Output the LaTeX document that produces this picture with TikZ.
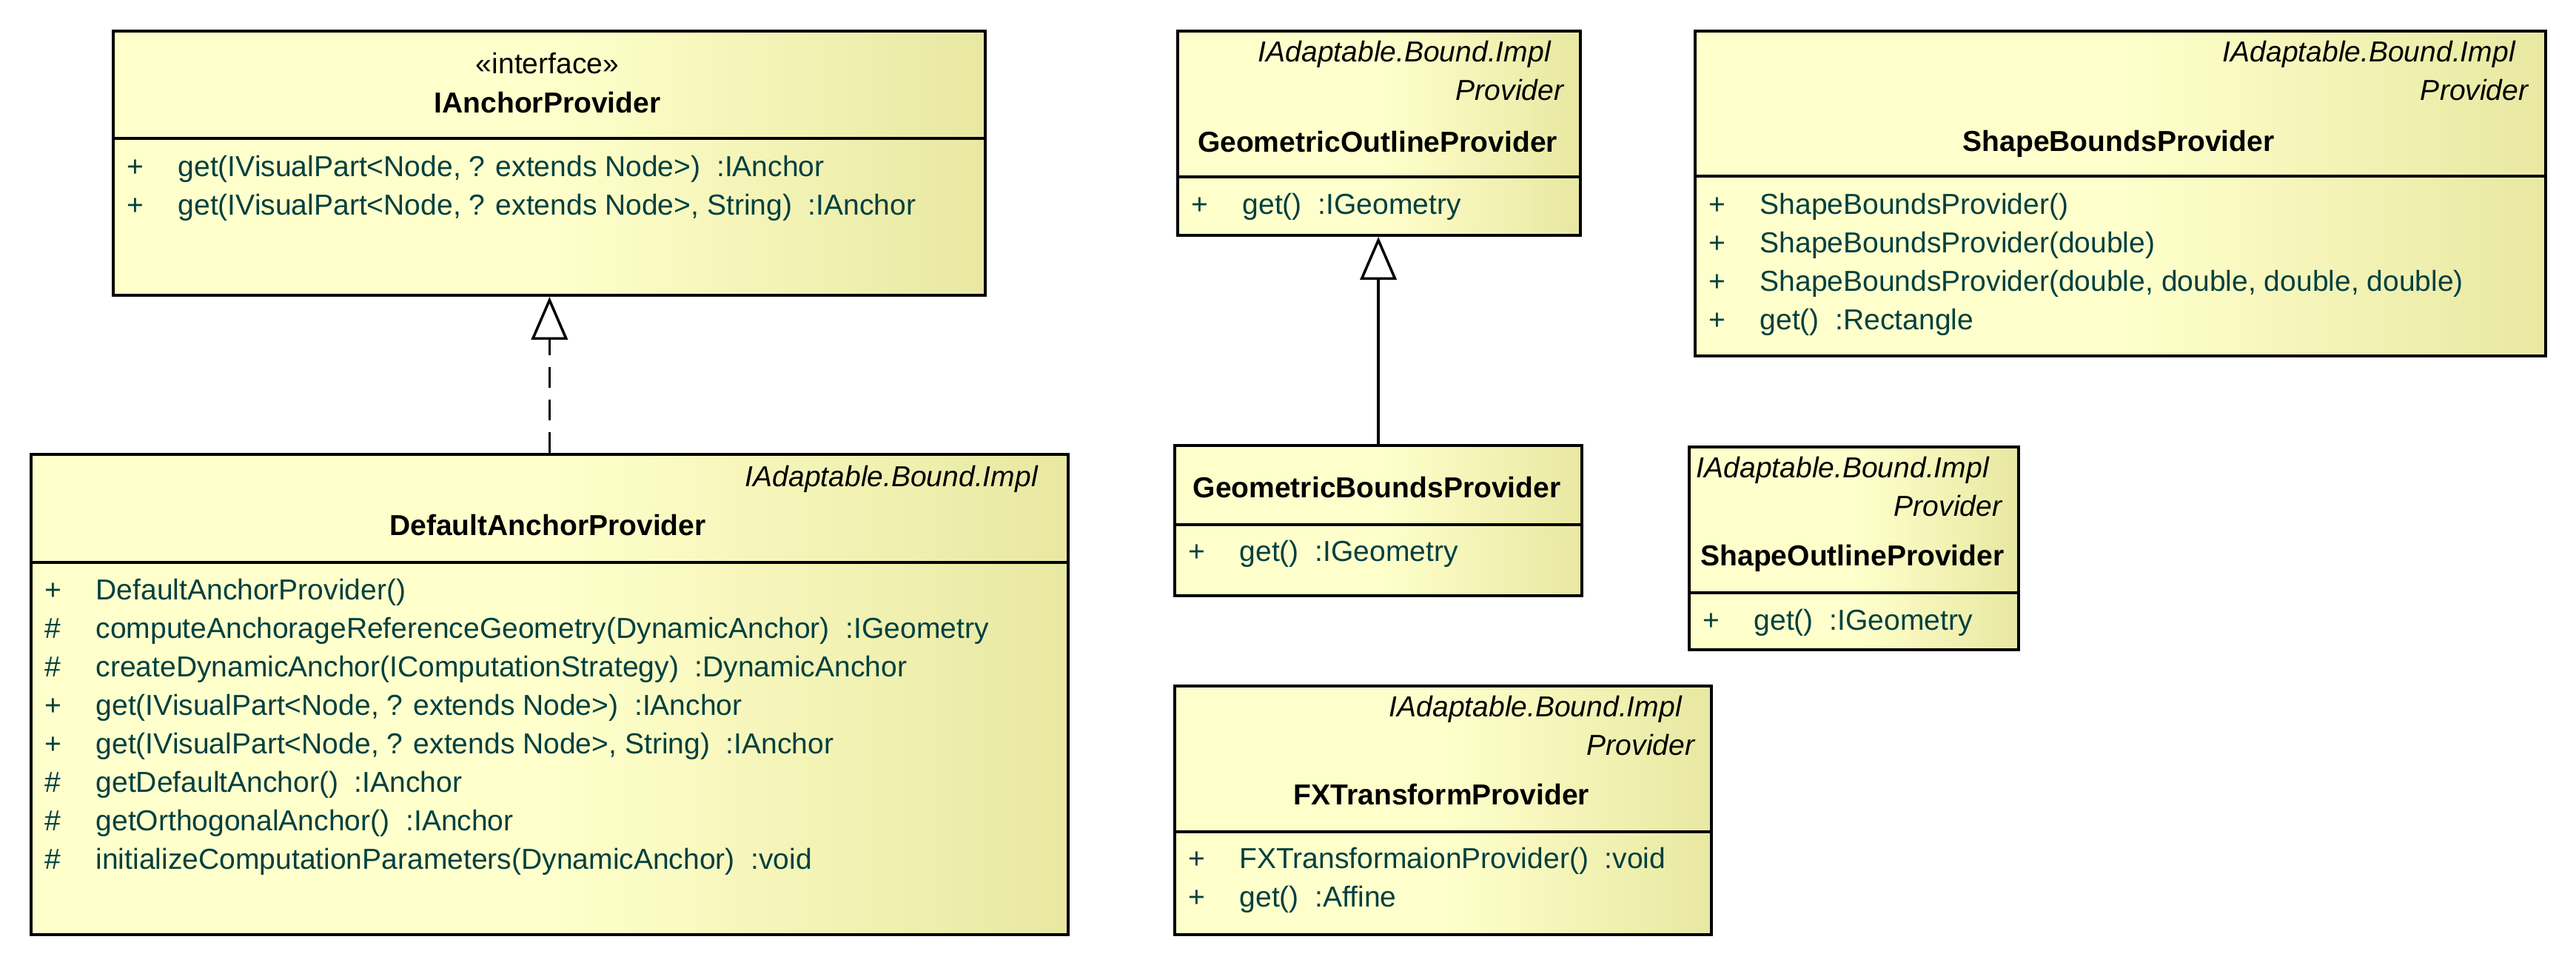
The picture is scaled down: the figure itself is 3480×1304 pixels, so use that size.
\documentclass[tikz,border=0pt]{standalone}
\usepackage{fontspec}
\setmainfont{Liberation Sans}
\usetikzlibrary{arrows.meta}

\definecolor{umlLight}{RGB}{255,255,204}
\definecolor{umlDark}{RGB}{232,232,162}
\definecolor{umlText}{RGB}{0,64,64}
\newcommand{\umlfont}{\fontsize{11.1}{14.8}\selectfont}
\newcommand{\vis}[1]{\makebox[19.6pt][l]{#1}}

\begin{document}
\begin{tikzpicture}[x=0.01cm, y=-0.01cm,
    umlclass/.style={draw, line width=1.1pt, left color=umlLight, right color=umlDark, middle color=umlLight, anchor=north west, inner sep=0pt},
    members/.style={anchor=base west, align=left, inner sep=0pt, text=umlText, font=\umlfont},
    stereo/.style={anchor=base east, align=right, inner sep=0pt, font=\umlfont\itshape},
    classname/.style={anchor=base, inner sep=0pt, font=\umlfont\bfseries},
    realize/.style={line width=1pt, dash pattern=on 8pt off 4.5pt, -{Triangle[length=16.5pt, width=14pt, fill=white]}},
    inherit/.style={line width=1pt, -{Triangle[length=16.5pt, width=14pt, fill=white]}}]
    \useasboundingbox (0,0) rectangle (3480,1304);

    % IAnchorProvider (multi-line nodes sit on their last baseline)
    \node[umlclass, minimum width=11.77cm, minimum height=3.57cm] (iap) at (151,40) {};
    \draw[line width=1.1pt] (iap.west |- 0,187) -- (iap.east |- 0,187);
    \node[anchor=base, inner sep=0pt, font=\umlfont] (iapstereo) at (739.5,100) {«interface»};
    \node[classname] (iapname) at (739.5,153) {IAnchorProvider};
    \node[members] (iapops) at (171,291) {\vis{+}get(IVisualPart<Node, ? extends Node>)\ \ :IAnchor\\
        \vis{+}get(IVisualPart<Node, ? extends Node>, String)\ \ :IAnchor};

    % DefaultAnchorProvider
    \node[umlclass, minimum width=14cm, minimum height=6.49cm] (dap) at (40,612) {};
    \draw[line width=1.1pt] (dap.west |- 0,760) -- (dap.east |- 0,760);
    \node[stereo] (daptag) at (1420,658) {IAdaptable.Bound.Impl\hspace*{5pt}};
    \node[classname] (dapname) at (740,724) {DefaultAnchorProvider};
    \node[members] (dapops) at (60,1175) {\vis{+}DefaultAnchorProvider()\\
        \vis{\#}computeAnchorageReferenceGeometry(DynamicAnchor)\ \ :IGeometry\\
        \vis{\#}createDynamicAnchor(IComputationStrategy)\ \ :DynamicAnchor\\
        \vis{+}get(IVisualPart<Node, ? extends Node>)\ \ :IAnchor\\
        \vis{+}get(IVisualPart<Node, ? extends Node>, String)\ \ :IAnchor\\
        \vis{\#}getDefaultAnchor()\ \ :IAnchor\\
        \vis{\#}getOrthogonalAnchor()\ \ :IAnchor\\
        \vis{\#}initializeComputationParameters(DynamicAnchor)\ \ :void};

    % GeometricOutlineProvider
    \node[umlclass, minimum width=5.44cm, minimum height=2.76cm] (gop) at (1589,40) {};
    \draw[line width=1.1pt] (gop.west |- 0,239) -- (gop.east |- 0,239);
    \node[stereo] (goptag) at (2113,136) {IAdaptable.Bound.Impl\hspace*{5pt}\\Provider};
    \node[classname] (gopname) at (1861,206) {GeometricOutlineProvider};
    \node[members] (gopops) at (1609,290) {\vis{+}get()\ \ :IGeometry};

    % GeometricBoundsProvider
    \node[umlclass, minimum width=5.5cm, minimum height=2.03cm] (gbp) at (1585,600) {};
    \draw[line width=1.1pt] (gbp.west |- 0,709) -- (gbp.east |- 0,709);
    \node[classname] (gbpname) at (1860,673) {GeometricBoundsProvider};
    \node[members] (gbpops) at (1605,759) {\vis{+}get()\ \ :IGeometry};

    % FXTransformProvider
    \node[umlclass, minimum width=7.25cm, minimum height=3.36cm] (fxp) at (1585,925) {};
    \draw[line width=1.1pt] (fxp.west |- 0,1124) -- (fxp.east |- 0,1124);
    \node[stereo] (fxptag) at (2290,1021) {IAdaptable.Bound.Impl\hspace*{5pt}\\Provider};
    \node[classname] (fxpname) at (1947.5,1088) {FXTransformProvider};
    \node[members] (fxpops) at (1605,1226) {\vis{+}FXTransformaionProvider()\ \ :void\\
        \vis{+}get()\ \ :Affine};

    % ShapeBoundsProvider
    \node[umlclass, minimum width=11.48cm, minimum height=4.39cm] (sbp) at (2288,40) {};
    \draw[line width=1.1pt] (sbp.west |- 0,238) -- (sbp.east |- 0,238);
    \node[stereo] (sbptag) at (3416,136) {IAdaptable.Bound.Impl\hspace*{5pt}\\Provider};
    \node[classname] (sbpname) at (2862,205) {ShapeBoundsProvider};
    \node[members] (sbpops) at (2308,446) {\vis{+}ShapeBoundsProvider()\\
        \vis{+}ShapeBoundsProvider(double)\\
        \vis{+}ShapeBoundsProvider(double, double, double, double)\\
        \vis{+}get()\ \ :Rectangle};

    % ShapeOutlineProvider
    \node[umlclass, minimum width=4.45cm, minimum height=2.74cm] (sop) at (2280,602) {};
    \draw[line width=1.1pt] (sop.west |- 0,801) -- (sop.east |- 0,801);
    \node[stereo] (soptag) at (2705,698) {IAdaptable.Bound.Impl\hspace*{5pt}\\Provider};
    \node[classname] (sopname) at (2502.5,765) {ShapeOutlineProvider};
    \node[members] (sopops) at (2300,852) {\vis{+}get()\ \ :IGeometry};

    % relations
    \draw[realize] (dap.north) -- (dap.north |- iap.south);
    \draw[inherit] (gbp.north) -- (gbp.north |- gop.south);
\end{tikzpicture}
\end{document}
